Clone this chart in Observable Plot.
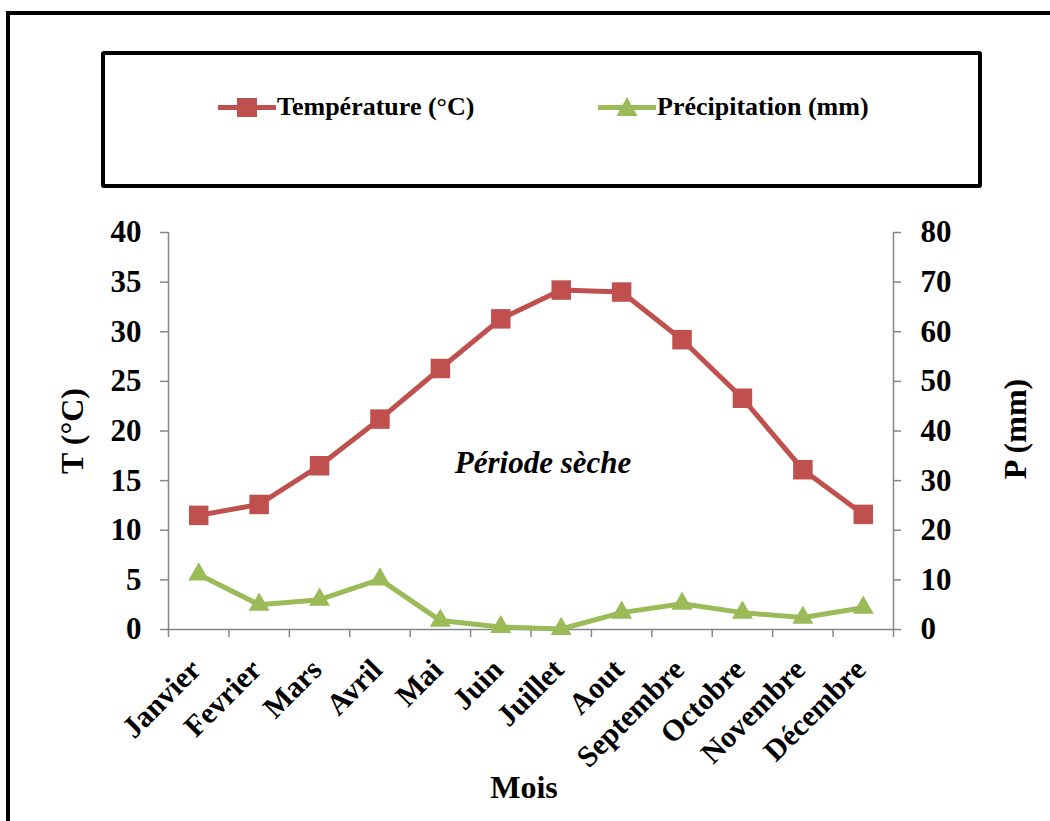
<!DOCTYPE html>
<html>
<head>
<meta charset="utf-8">
<script src="https://cdn.jsdelivr.net/npm/d3@7"></script>
<script src="https://cdn.jsdelivr.net/npm/@observablehq/plot@0.6"></script>
<style>
  html, body { margin: 0; padding: 0; background: #fff; }
  body { width: 1050px; height: 821px; overflow: hidden; position: relative; font-family: "Liberation Serif", "Times New Roman", serif; }
  #frame { position: absolute; left: 6px; top: 11px; width: 1100px; height: 900px; border: 4px solid #000; }
  #chart { position: absolute; left: 0; top: 0; }
  #legend { position: absolute; left: 101px; top: 51px; width: 873px; height: 129px; border: 4px solid #000; border-radius: 3px; background: #fff; }
  .item { position: absolute; top: 0; height: 26px; display: flex; align-items: center; white-space: nowrap; font-weight: bold; font-size: 26px; color: #000; }
  .item svg { display: block; margin-right: 1px; }
</style>
</head>
<body>
<div id="frame"></div>
<div id="chart"></div>
<div id="legend"></div>
<script>
const months = ["Janvier","Fevrier","Mars","Avril","Mai","Juin","Juillet","Aout","Septembre","Octobre","Novembre","Décembre"];
const temperature = [11.5, 12.6, 16.5, 21.2, 26.3, 31.3, 34.2, 34.0, 29.2, 23.3, 16.1, 11.6];
const precipitation = [11.1, 5.0, 6.0, 10.1, 1.8, 0.5, 0.1, 3.4, 5.2, 3.4, 2.4, 4.4];
const seriesNames = ["Température (°C)", "Précipitation (mm)"];
const seriesColors = ["#C0504D", "#9BBB59"];
const tTicks = [0, 5, 10, 15, 20, 25, 30, 35, 40];
const pPerT = 2; // right axis: 0-80 mm over 0-40 °C

const idx = months.map((m, i) => i);
const tempData = idx.map(i => ({i, v: temperature[i]}));
const precData = idx.map(i => ({i, v: precipitation[i] / pPerT}));
const xMin = -0.5, xMax = months.length - 0.5;
const boundaries = d3.range(xMin, months.length, 1);

const axisColor = "#868686";
const font = "Liberation Serif";

const chart = Plot.plot({
  width: 1050,
  height: 821,
  marginLeft: 168,
  marginRight: 157,
  marginTop: 232,
  marginBottom: 192,
  style: { fontFamily: font, background: "transparent", color: "#000" },
  x: { type: "linear", domain: [xMin, xMax], axis: null },
  y: { type: "linear", domain: [0, 40], axis: null },
  marks: [
    // axis lines
    Plot.ruleX([xMin, xMax], { stroke: axisColor, strokeWidth: 1.5 }),
    Plot.ruleY([0], { stroke: axisColor, strokeWidth: 1.5 }),
    // x ticks at category boundaries
    Plot.ruleX(boundaries, { x: d => d, y1: () => 0, y2: () => 0, insetBottom: -8, stroke: axisColor, strokeWidth: 1.5 }),
    // left axis ticks and labels
    Plot.ruleY(tTicks, { y: d => d, x1: () => xMin, x2: () => xMin, insetLeft: -8, stroke: axisColor, strokeWidth: 1.5 }),
    Plot.text(tTicks, { x: () => xMin, y: d => d, text: d => String(d), textAnchor: "end", dx: -27, fontSize: 31, fontWeight: "bold", fill: "#000" }),
    // right axis ticks and labels
    Plot.ruleY(tTicks, { y: d => d, x1: () => xMax, x2: () => xMax, insetRight: -8, stroke: axisColor, strokeWidth: 1.5 }),
    Plot.text(tTicks, { x: () => xMax, y: d => d, text: d => String(d * pPerT), textAnchor: "start", dx: 27, fontSize: 31, fontWeight: "bold", fill: "#000" }),
    // month labels
    Plot.text(idx, { x: d => d, frameAnchor: "bottom", text: d => months[d], rotate: -45, textAnchor: "end", lineAnchor: "bottom", dx: 4, dy: 42, fontSize: 30, fontWeight: "bold", fill: "#000" }),
    // axis titles
    Plot.text(["T (°C)"], { frameAnchor: "left", text: d => d, rotate: -90, textAnchor: "middle", lineAnchor: "middle", dx: -96, fontSize: 32, fontWeight: "bold", fill: "#000" }),
    Plot.text(["P (mm)"], { frameAnchor: "right", text: d => d, rotate: -90, textAnchor: "middle", lineAnchor: "middle", dx: 122, dy: -2, fontSize: 32, fontWeight: "bold", fill: "#000" }),
    Plot.text(["Mois"], { frameAnchor: "bottom", text: d => d, textAnchor: "middle", lineAnchor: "bottom", dx: -7, dy: 168, fontSize: 32, fontWeight: "bold", fill: "#000" }),
    // annotation
    Plot.text(["Période sèche"], { x: () => 5.7, y: () => 16.8, text: d => d, fontSize: 31, fontWeight: "bold", fontStyle: "italic", fill: "#000" }),
    // series
    Plot.line(tempData, { x: "i", y: "v", stroke: seriesColors[0], strokeWidth: 5 }),
    Plot.dot(tempData, { x: "i", y: "v", symbol: "square", r: 11, fill: seriesColors[0], stroke: "none" }),
    Plot.line(precData, { x: "i", y: "v", stroke: seriesColors[1], strokeWidth: 5 }),
    Plot.dot(precData, { x: "i", y: "v", symbol: "triangle", r: 7.8, fill: seriesColors[1], stroke: "none" })
  ]
});
document.getElementById("chart").appendChild(chart);

// legend
const legendX = [113, 493];
const legend = document.getElementById("legend");
seriesNames.forEach((name, k) => {
  const item = document.createElement("div");
  item.className = "item";
  item.style.left = legendX[k] + "px";
  item.style.top = "39px";
  const sym = k === 0
    ? `<rect x="19" y="3" width="20" height="19" fill="${seriesColors[k]}"/>`
    : `<path d="M29,2 L39.5,21 L18.5,21 Z" fill="${seriesColors[k]}"/>`;
  item.innerHTML = `<svg width="58" height="26" viewBox="0 0 58 24"><line x1="1.5" y1="12.5" x2="56.5" y2="12.5" stroke="${seriesColors[k]}" stroke-width="5" stroke-linecap="round"/>${sym}</svg><span>${name}</span>`;
  legend.appendChild(item);
});
</script>
</body>
</html>
